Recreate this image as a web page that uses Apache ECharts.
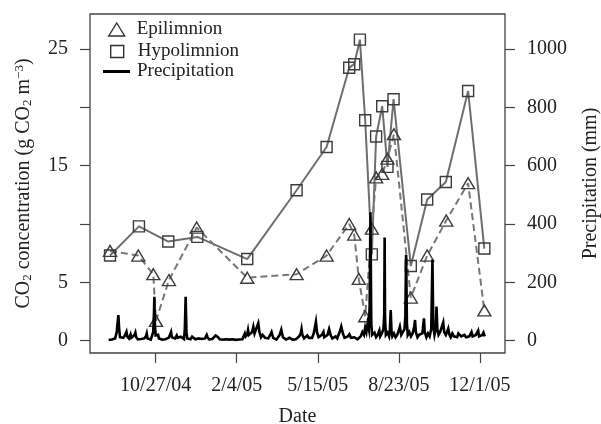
<!DOCTYPE html>
<html>
<head>
<meta charset="utf-8">
<script src="https://cdn.jsdelivr.net/npm/echarts@6/dist/echarts.min.js"></script>
<style>html,body{margin:0;padding:0;background:#fff}#c{width:601px;height:424px}</style>
</head>
<body>
<div id="c"></div>
<script>
// Days counted from 10/27/04
const tickDays = [0, 100, 200, 300, 400];
const tickLabels = ['10/27/04', '2/4/05', '5/15/05', '8/23/05', '12/1/05'];
const leftTicks = [0, 5, 10, 15, 20, 25];
const leftLabels = [0, 5, 15, 25];
const rightTicks = [0, 200, 400, 600, 800, 1000];

const epiDays = [-56.3, -21.4, -2.9, 0.4, 16.4, 50.6, 113, 173.9, 210.9, 238.8, 245, 250.6, 258.5, 266.7, 272, 279.5, 286, 294, 314.8, 335, 358.5, 385.5, 405.5];
const epiCO2 = [7.7, 7.3, 5.7, 1.7, 5.2, 9.7, 5.4, 5.7, 7.3, 10.0, 9.1, 5.3, 2.1, 9.6, 14.0, 14.3, 15.6, 17.7, 3.7, 7.3, 10.3, 13.5, 2.6];

const hypoDays = [-56.3, -20.6, 15.6, 51.4, 113, 173.9, 210.9, 238.8, 245, 252, 258.5, 266.7, 272, 279.5, 286, 293.5, 314.8, 335, 358, 385.5, 405.5];
const hypoCO2 = [7.3, 9.8, 8.5, 8.9, 7.0, 12.9, 16.6, 23.4, 23.7, 25.8, 18.9, 7.4, 17.5, 20.1, 14.9, 20.7, 6.4, 12.1, 13.6, 21.4, 7.9];

const precDays = [-58, -56, -54, -52, -50, -48, -47, -46, -45, -44, -42, -40, -38, -36, -35, -33, -31, -30, -28, -26, -25, -24, -22, -20, -18, -16, -14, -12, -11, -10, -8, -6, -4, -3, -2, -1.6, -1, 0, 1, 3, 4, 6, 8, 10, 12, 14, 16, 18, 19, 20, 22, 24, 26, 27, 29, 31, 33, 35, 36, 37, 38, 39, 41, 43, 45, 46, 47, 49, 51, 53, 55, 57, 59, 61, 63, 64, 66, 68, 70, 72, 74, 75, 77, 79, 81, 83, 85, 87, 89, 91, 93, 95, 97, 99, 101, 103, 105, 107, 109, 110, 111, 113, 114, 115, 117, 119, 120.5, 122, 124, 126.6, 128, 130, 132, 133, 135, 137, 139, 141, 143, 145, 147, 149, 151, 153, 155, 157, 159, 161, 163, 165, 167, 169, 171, 173, 175, 177, 179, 180, 181, 183, 185, 187, 189, 191, 193, 195, 197.7, 199, 201, 203, 205, 207, 208, 210, 212, 214, 216, 218, 220, 222, 224, 226, 227, 229, 231, 233, 235, 237, 239, 241, 243, 245, 247, 249, 251, 253, 255, 257, 258.5, 260, 261.5, 263, 264, 265, 266, 267, 268, 270, 272, 274, 276, 277, 279, 281, 282, 282.5, 283, 284, 286, 288, 289, 290, 291, 292, 294, 296, 298, 300, 301.3, 303, 305, 307, 308, 309, 310, 311, 313, 315, 317, 319, 320, 321, 323, 325, 327, 329, 331, 332, 334, 336, 338, 340, 341.5, 342.5, 344, 345.5, 346.5, 347.5, 349, 351, 353, 354.8, 356, 358, 359.5, 361, 362.5, 364, 366, 368, 370, 372, 373.5, 375, 377, 379, 381, 383, 385, 387, 389.7, 391, 393, 395, 397.9, 399, 401, 403, 404.5, 406];
const precMM = [3, 5, 4, 6, 8, 30, 60, 88, 40, 12, 6, 10, 18, 31, 15, 8, 22, 10, 6, 20, 28, 12, 5, 4, 6, 5, 8, 15, 25, 8, 5, 4, 8, 30, 100, 151, 60, 18, 12, 20, 8, 5, 4, 6, 5, 8, 10, 22, 30, 12, 6, 8, 18, 10, 6, 14, 8, 6, 40, 151, 30, 8, 10, 5, 14, 20, 8, 5, 4, 8, 12, 6, 4, 8, 20, 12, 5, 4, 6, 10, 18, 20, 12, 5, 3, 4, 3, 5, 3, 4, 3, 5, 4, 3, 5, 4, 6, 5, 10, 25, 15, 22, 37, 20, 15, 30, 48, 25, 30, 60, 30, 12, 20, 25, 10, 6, 8, 18, 30, 10, 5, 4, 8, 20, 38, 12, 6, 4, 6, 10, 5, 4, 6, 5, 8, 15, 25, 40, 20, 8, 12, 18, 10, 6, 10, 25, 65, 30, 12, 8, 20, 30, 12, 8, 20, 40, 18, 8, 6, 15, 8, 12, 30, 49, 25, 10, 6, 15, 22, 10, 6, 12, 8, 5, 10, 15, 30, 20, 45, 30, 60, 40, 120, 440, 60, 20, 15, 28, 12, 20, 35, 15, 25, 40, 90, 354, 80, 20, 28, 15, 40, 105, 30, 15, 25, 12, 20, 35, 48, 20, 15, 40, 80, 295, 60, 20, 30, 15, 25, 50, 71, 30, 12, 20, 15, 25, 77, 30, 12, 25, 15, 40, 278, 50, 20, 40, 117, 40, 20, 30, 25, 63, 30, 20, 30, 42, 20, 12, 25, 15, 20, 12, 25, 30, 15, 10, 20, 12, 8, 15, 30, 15, 10, 20, 35, 15, 10, 20, 28, 15];

const FONT = 'Liberation Serif';
const TXT = '#222';

const zip = (a, b) => a.map((v, i) => [v, b[i]]);

const chart = echarts.init(document.getElementById('c'), null, { renderer: 'canvas' });
chart.setOption({
  animation: false,
  backgroundColor: '#fff',
  grid: { left: 90, right: 96, top: 14, bottom: 71, show: true, borderColor: '#444', borderWidth: 1.3, backgroundColor: 'transparent', containLabel: false, outerBoundsMode: 'none' },
  legend: [
    { data: [{ name: 'Epilimnion', icon: 'triangle', itemStyle: { color: 'rgba(0,0,0,0)', borderColor: '#333', borderWidth: 1.4 } }],
      left: 108, top: 20, padding: 0, itemWidth: 16, itemHeight: 13, selectedMode: false,
      textStyle: { fontFamily: FONT, fontSize: 19, color: TXT, padding: [0, 0, 0, 7] } },
    { data: [{ name: 'Hypolimnion', icon: 'rect', itemStyle: { color: 'rgba(0,0,0,0)', borderColor: '#333', borderWidth: 1.4 } }],
      left: 110, top: 42, padding: 0, itemWidth: 13, itemHeight: 12, selectedMode: false,
      textStyle: { fontFamily: FONT, fontSize: 19, color: TXT, padding: [0, 0, 0, 9] } },
    { data: [{ name: 'Precipitation', icon: 'rect', itemStyle: { color: '#000', borderWidth: 0 } }],
      left: 103, top: 62, padding: 0, itemWidth: 27, itemHeight: 3, selectedMode: false,
      textStyle: { fontFamily: FONT, fontSize: 19, color: TXT, padding: [0, 0, 0, 2] } }
  ],
  xAxis: {
    type: 'value', min: -81, max: 431,
    name: 'Date', nameLocation: 'middle', nameGap: 54,
    nameTextStyle: { fontFamily: FONT, fontSize: 20, color: TXT },
    axisLine: { show: false, onZero: false },
    splitLine: { show: false },
    axisTick: { show: true, customValues: tickDays, length: 10, lineStyle: { color: '#444', width: 1.2 } },
    axisLabel: { customValues: tickDays, margin: 23, fontFamily: FONT, fontSize: 20, color: TXT,
      formatter: v => tickLabels[tickDays.indexOf(Math.round(v))] || '' }
  },
  yAxis: [
    {
      type: 'value', min: -1.05, max: 28.0, position: 'left',
      name: '{t|CO}{s|2}{t| concentration (g CO}{s|2}{t| m}{u|−3}{t|)}',
      nameLocation: 'middle', nameRotate: 90, nameGap: 56,
      nameTextStyle: { fontFamily: FONT, fontSize: 20, color: TXT,
        rich: {
          t: { fontFamily: FONT, fontSize: 20, color: TXT, lineHeight: 20, verticalAlign: 'middle' },
          s: { fontFamily: FONT, fontSize: 13, color: TXT, lineHeight: 13, padding: [8, 0, 0, 0], verticalAlign: 'middle' },
          u: { fontFamily: FONT, fontSize: 13, color: TXT, lineHeight: 13, padding: [0, 0, 8, 0], verticalAlign: 'middle' }
        } },
      axisLine: { show: false, onZero: false },
      splitLine: { show: false },
      axisTick: { show: true, customValues: leftTicks, length: 10, lineStyle: { color: '#444', width: 1.2 } },
      axisLabel: { customValues: leftLabels, margin: 22, fontFamily: FONT, fontSize: 20, color: TXT, formatter: v => String(v) }
    },
    {
      type: 'value', min: -42, max: 1120, position: 'right',
      name: 'Precipitation (mm)', nameLocation: 'middle', nameRotate: 90, nameGap: 76,
      nameTextStyle: { fontFamily: FONT, fontSize: 20, color: TXT },
      axisLine: { show: false, onZero: false },
      splitLine: { show: false },
      axisTick: { show: true, customValues: rightTicks, length: 10, lineStyle: { color: '#444', width: 1.2 } },
      axisLabel: { customValues: rightTicks, margin: 22, fontFamily: FONT, fontSize: 20, color: TXT, formatter: v => String(v) }
    }
  ],
  series: [
    {
      name: 'Hypolimnion', type: 'line', yAxisIndex: 0, z: 2,
      data: zip(hypoDays, hypoCO2),
      symbol: 'rect', symbolSize: 11, showAllSymbol: true,
      lineStyle: { color: '#6e6e6e', width: 2 },
      itemStyle: { color: 'rgba(0,0,0,0)', borderColor: '#3c3c3c', borderWidth: 1.4 },
      emphasis: { disabled: true }
    },
    {
      name: 'Epilimnion', type: 'line', yAxisIndex: 0, z: 2,
      data: zip(epiDays, epiCO2),
      symbol: 'triangle', symbolSize: [13, 11], showAllSymbol: true,
      lineStyle: { color: '#777', width: 2, type: [7, 4] },
      itemStyle: { color: 'rgba(0,0,0,0)', borderColor: '#3c3c3c', borderWidth: 1.4 },
      emphasis: { disabled: true }
    },
    {
      name: 'Precipitation', type: 'line', yAxisIndex: 1, z: 4,
      data: zip(precDays, precMM),
      symbol: 'none', showSymbol: false,
      lineStyle: { color: '#000', width: 2.6, join: 'miter' },
      itemStyle: { color: '#000' },
      emphasis: { disabled: true }
    }
  ]
});
</script>
</body>
</html>
